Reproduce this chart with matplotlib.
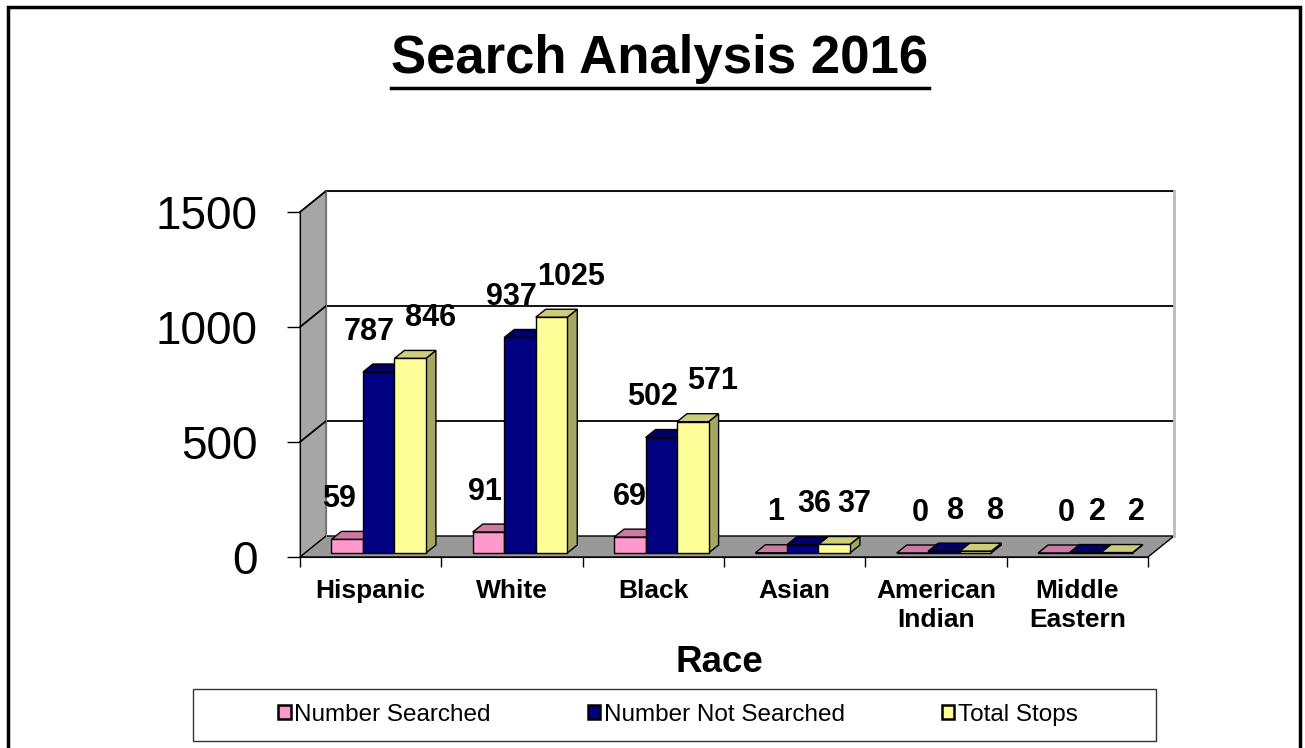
import numpy as np
import matplotlib
matplotlib.use("Agg")
import matplotlib.pyplot as plt
from matplotlib.patches import Polygon, Rectangle, Patch
from matplotlib.colors import to_rgb

plt.rcParams["font.family"] = ["Liberation Sans", "DejaVu Sans"]

categories = ["Hispanic", "White", "Black", "Asian", "American\nIndian", "Middle\nEastern"]
series_names = ["Number Searched", "Number Not Searched", "Total Stops"]
searched = [59, 91, 69, 1, 0, 0]
not_searched = [787, 937, 502, 36, 8, 2]
total_stops = [846, 1025, 571, 37, 8, 2]
series_values = [searched, not_searched, total_stops]
series_colors = ["#FF99CC", "#000080", "#FFFF99"]
y_ticks = [0, 500, 1000, 1500]

W, H = 1305, 748
fig = plt.figure(figsize=(W / 100, H / 100), dpi=100)

# plot area in pixels (front plane)
px_left, px_right, px_bottom, px_top = 300, 1148, 557, 212
ax = fig.add_axes([px_left / W, 1 - px_bottom / H,
                   (px_right - px_left) / W, (px_bottom - px_top) / H])
n = len(categories)
ax.set_xlim(0, n)
ax.set_ylim(0, 1500)
ux = (px_right - px_left) / n      # px per x unit
uy = (px_bottom - px_top) / 1500   # px per y unit

# depth of the "3d" box and bars, in data units
wall_dx, wall_dy = 26 / ux, 21 / uy
bar_dx, bar_dy = 10 / ux, 8 / uy
base = 4 / uy
shift = 8 / ux
bw = 31.5 / ux


def shade(c, f):
    r, g, b = to_rgb(c)
    return (r * f, g * f, b * f)


def label_shift(k, i, v):
    # excel spreads the value labels a little wider than the bars
    if k == 0:
        return (-8 + 4 * i) * 0.72
    if k == 1:
        return (-9 if v > 100 else 12) * 0.72
    return 20 * 0.72


# left wall, floor, back wall
ax.add_patch(Polygon([(0, 0), (0, 1500), (wall_dx, 1500 + wall_dy), (wall_dx, wall_dy)],
                     closed=True, facecolor="#A6A6A6", edgecolor="#555555", lw=0.8,
                     zorder=0.5, clip_on=False))
ax.add_patch(Polygon([(wall_dx, wall_dy), (n + wall_dx, wall_dy), (n + wall_dx, 1500 + wall_dy),
                      (wall_dx, 1500 + wall_dy)], closed=True, facecolor="white",
                     edgecolor="#888888", lw=0.8, zorder=0.5, clip_on=False))
ax.add_patch(Polygon([(0, 0), (n, 0), (n + wall_dx, wall_dy), (wall_dx, wall_dy)],
                     closed=True, facecolor="#999999", edgecolor="black", lw=1.0,
                     zorder=0.6, clip_on=False))
for v in y_ticks[1:]:
    ax.plot([0, wall_dx, n + wall_dx], [v, v + wall_dy, v + wall_dy], color="black",
            lw=1.3, zorder=0.7, clip_on=False)
ax.plot([wall_dx, wall_dx], [wall_dy, 1500 + wall_dy], color="#777777", lw=0.8,
        zorder=0.7, clip_on=False)
ax.plot([n + wall_dx, n + wall_dx], [wall_dy, 1500 + wall_dy], color="#BBBBBB", lw=2,
        zorder=0.7, clip_on=False)

# bars
x_centers = np.arange(n) + 0.5 + shift
z = 2
for i in range(n):
    for k, vals in enumerate(series_values):
        xc = x_centers[i] + (k - 1) * bw
        v = vals[i]
        col = series_colors[k]
        x0, x1 = xc - bw / 2, xc + bw / 2
        top = base + v
        ax.add_patch(Polygon([(x1, base), (x1 + bar_dx, base + bar_dy),
                              (x1 + bar_dx, top + bar_dy), (x1, top)], closed=True,
                             facecolor=shade(col, 0.65), edgecolor="black", lw=1, zorder=z))
        ax.add_patch(Polygon([(x0, top), (x0 + bar_dx, top + bar_dy),
                              (x1 + bar_dx, top + bar_dy), (x1, top)], closed=True,
                             facecolor=shade(col, 0.8), edgecolor="black", lw=1, zorder=z + 0.1))
        ax.bar(xc, v, bw, bottom=base, color=col, edgecolor="black", lw=1, zorder=z + 0.2)
        ax.annotate(str(v), (xc, top), xytext=(label_shift(k, i, v), 29),
                    textcoords="offset points", ha="center", va="center", fontsize=22,
                    fontweight="bold", zorder=50, annotation_clip=False)
        z += 1

# axes styling
for s in ["top", "right"]:
    ax.spines[s].set_visible(False)
ax.spines["left"].set_zorder(1)
ax.spines["bottom"].set_zorder(1)
ax.patch.set_visible(False)
ax.set_yticks(y_ticks)
ax.set_yticklabels([str(t) for t in y_ticks])
ax.tick_params(axis="y", direction="out", length=9.5, width=1, labelsize=33, pad=21)
ax.set_xticks(np.arange(n + 1))
ax.set_xticklabels([])
ax.set_xticks(np.arange(n) + 0.5, minor=True)
ax.set_xticklabels(categories, minor=True, fontsize=19, fontweight="bold", linespacing=1.25)
ax.tick_params(axis="x", which="major", direction="out", length=7, width=1)
ax.tick_params(axis="x", which="minor", length=0, pad=16)

fig.text(719 / W, 1 - 662 / H, "Race", ha="center", va="center", fontsize=26.5,
         fontweight="bold")

title = fig.text(660 / W, 1 - 59 / H, "Search Analysis 2016", ha="center", va="center",
                 fontsize=38, fontweight="bold")
fig.canvas.draw()
bb = title.get_window_extent()
fig.add_artist(plt.Line2D([bb.x0 / W, bb.x1 / W], [1 - 88 / H, 1 - 88 / H],
                          color="black", lw=2.5, transform=fig.transFigure))

# legend
fig.add_artist(Rectangle((193 / W, 1 - 741 / H), (1156 - 193) / W, (741 - 689) / H,
                         transform=fig.transFigure, facecolor="none", edgecolor="#333333",
                         lw=1))
handles = [Patch(facecolor=c, edgecolor="black", lw=1.8) for c in series_colors]
fig.legend(handles, series_names, loc="center", bbox_to_anchor=(678 / W, 1 - 715 / H),
           ncol=3, frameon=False, fontsize=17.5, handlelength=0.5, handleheight=0.5,
           handletextpad=0.15, columnspacing=4.0, borderpad=0)

# outer border
fig.add_artist(Rectangle((8 / W, -0.01), (1300 - 8) / W, (1 - 7 / H) + 0.01,
                         transform=fig.transFigure, facecolor="none", edgecolor="black",
                         lw=2.5))

fig.savefig("out.png", dpi=100)
